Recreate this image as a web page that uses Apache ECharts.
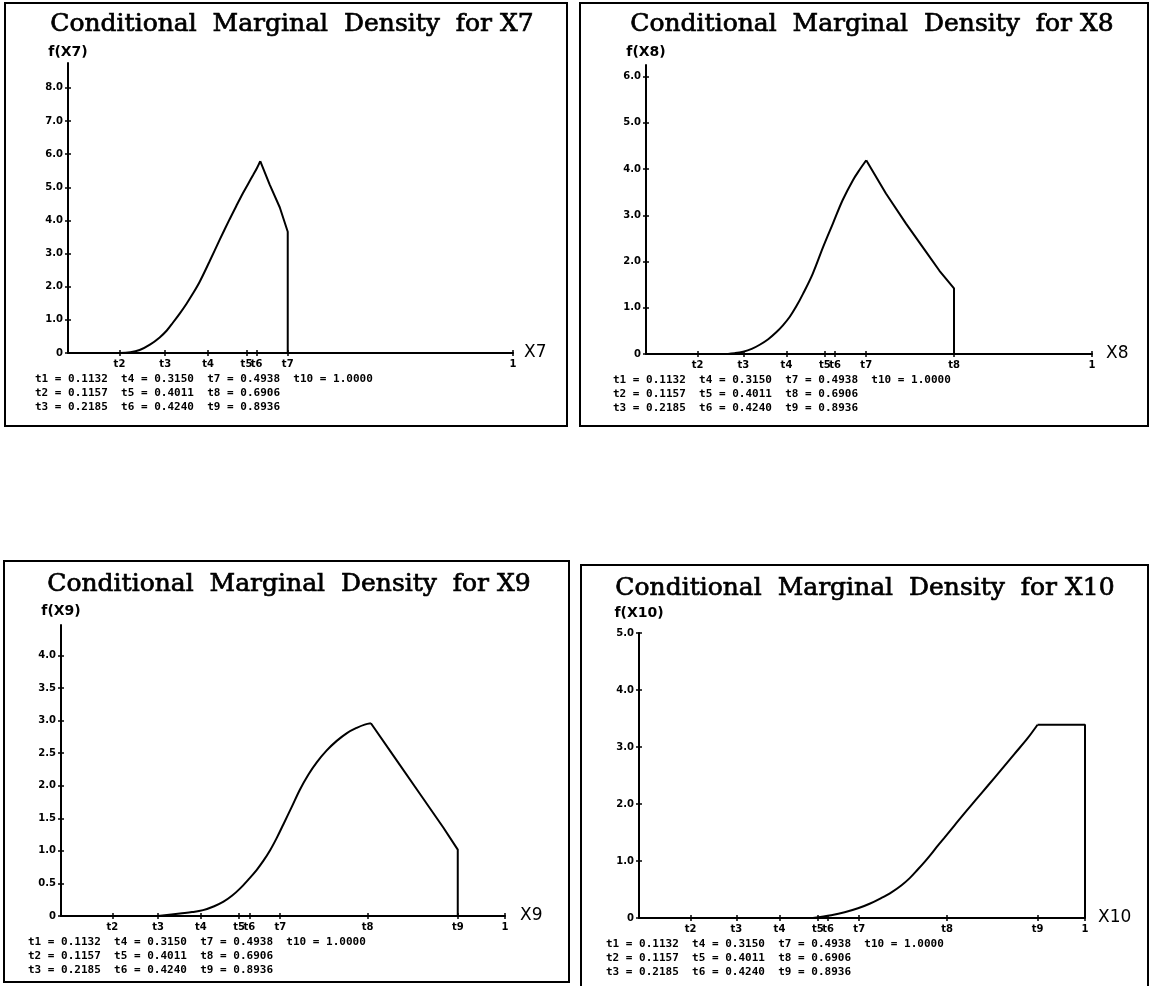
<!DOCTYPE html>
<html>
<head>
<meta charset="utf-8">
<script src="https://cdn.jsdelivr.net/npm/echarts@6/dist/echarts.min.js"></script>
<style>
  html, body { margin: 0; padding: 0; background: #fff; }
  #chart { width: 1151px; height: 986px; }
</style>
</head>
<body>
<div id="chart"></div>
<script>
// Spline knots shared by all four marginal densities
const knotNames  = ['t1', 't2', 't3', 't4', 't5', 't6', 't7', 't8', 't9', 't10'];
const knotValues = [0.1132, 0.1157, 0.2185, 0.3150, 0.4011, 0.4240, 0.4938, 0.6906, 0.8936, 1.0000];

// Conditional marginal density of X7
const x7Values  = [0.1157, 0.140, 0.161, 0.185, 0.206, 0.222, 0.236, 0.251, 0.266, 0.281, 0.296, 0.318, 0.341, 0.363, 0.378, 0.393, 0.405, 0.416, 0.425, 0.432, 0.453, 0.476, 0.4938, 0.4938];
const x7Density = [0, 0.02, 0.09, 0.26, 0.47, 0.68, 0.92, 1.19, 1.48, 1.80, 2.15, 2.76, 3.42, 4.03, 4.43, 4.82, 5.11, 5.37, 5.59, 5.79, 5.09, 4.39, 3.66, 0];

// Conditional marginal density of X8
const x8Values  = [0.1157, 0.173, 0.200, 0.218, 0.237, 0.255, 0.274, 0.292, 0.307, 0.322, 0.337, 0.352, 0.374, 0.397, 0.419, 0.441, 0.464, 0.480, 0.4938, 0.538, 0.583, 0.628, 0.658, 0.6906, 0.6906];
const x8Density = [0, 0, 0.02, 0.05, 0.11, 0.20, 0.32, 0.47, 0.62, 0.80, 1.03, 1.30, 1.74, 2.31, 2.82, 3.33, 3.76, 4.00, 4.19, 3.47, 2.82, 2.21, 1.80, 1.42, 0];

// Conditional marginal density of X9
const x9Values  = [0.2185, 0.268, 0.295, 0.320, 0.345, 0.366, 0.385, 0.403, 0.422, 0.441, 0.456, 0.471, 0.486, 0.501, 0.520, 0.538, 0.557, 0.576, 0.598, 0.621, 0.644, 0.666, 0.684, 0.698, 0.749, 0.809, 0.861, 0.8936, 0.8936];
const x9Density = [0, 0.04, 0.06, 0.09, 0.15, 0.22, 0.31, 0.42, 0.56, 0.71, 0.85, 1.01, 1.20, 1.41, 1.68, 1.94, 2.17, 2.36, 2.54, 2.69, 2.81, 2.89, 2.94, 2.96, 2.46, 1.87, 1.36, 1.02, 0];

// Conditional marginal density of X10
const x10Values  = [0.390, 0.431, 0.461, 0.491, 0.517, 0.543, 0.566, 0.588, 0.607, 0.625, 0.640, 0.655, 0.670, 0.685, 0.708, 0.730, 0.756, 0.782, 0.812, 0.842, 0.871, 0.8936, 1.0, 1.0];
const x10Density = [0, 0.05, 0.10, 0.17, 0.25, 0.35, 0.45, 0.57, 0.70, 0.85, 0.98, 1.12, 1.27, 1.41, 1.63, 1.84, 2.08, 2.32, 2.60, 2.88, 3.15, 3.39, 3.39, 0];

// Knot marks labelled under each x axis
const xTicksX7  = ['t2', 't3', 't4', 't5', 't6', 't7', '1'];
const xTicksX8  = ['t2', 't3', 't4', 't5', 't6', 't7', 't8', '1'];
const xTicksX9  = ['t2', 't3', 't4', 't5', 't6', 't7', 't8', 't9', '1'];
const xTicksX10 = ['t2', 't3', 't4', 't5', 't6', 't7', 't8', 't9', '1'];

// Density axis ticks
const yTicksX7  = [0, 1, 2, 3, 4, 5, 6, 7, 8];
const yTicksX8  = [0, 1, 2, 3, 4, 5, 6];
const yTicksX9  = [0, 0.5, 1, 1.5, 2, 2.5, 3, 3.5, 4];
const yTicksX10 = [0, 1, 2, 3, 4, 5];

const titles = [
  'Conditional  Marginal  Density  for X7',
  'Conditional  Marginal  Density  for X8',
  'Conditional  Marginal  Density  for X9',
  'Conditional  Marginal  Density  for X10'
];
const varNames = ['X7', 'X8', 'X9', 'X10'];

const knotPos = { '1': 1 };
knotNames.forEach((n, i) => { knotPos[n] = knotValues[i]; });

// Panel layout in pixels
const panels = [
  { xs: x7Values,  ys: x7Density,  xt: xTicksX7,  yt: yTicksX7,  yMax: 8.75,
    grid: { left: 68,  top: 63,  width: 445, height: 290 }, box: [5, 3, 562, 423],
    titleAt: [292, 24], yNameGap: 4,  xNameGap: 11 },
  { xs: x8Values,  ys: x8Density,  xt: xTicksX8,  yt: yTicksX8,  yMax: 6.25,
    grid: { left: 646, top: 65,  width: 446, height: 289 }, box: [580, 3, 568, 423],
    titleAt: [872, 24], yNameGap: 6,  xNameGap: 14 },
  { xs: x9Values,  ys: x9Density,  xt: xTicksX9,  yt: yTicksX9,  yMax: 4.47,
    grid: { left: 61,  top: 625, width: 444, height: 291 }, box: [4, 561, 565, 421],
    titleAt: [289, 584], yNameGap: 7,  xNameGap: 15 },
  { xs: x10Values, ys: x10Density, xt: xTicksX10, yt: yTicksX10, yMax: 5,
    grid: { left: 639, top: 633, width: 446, height: 285 }, box: [581, 565, 567, 430],
    titleAt: [865, 588], yNameGap: 13, xNameGap: 13 }
];

const tinyLabel = { color: '#000', fontFamily: 'DejaVu Sans', fontWeight: 'bold', fontSize: 10 };
const blackLine = { color: '#000', width: 2 };
const tickLine = { color: '#000', width: 1.5 };

const grids = [], xAxes = [], yAxes = [], series = [], graphics = [];

// Footnote rows listing the knot values, three knots per column
const footRows = [0, 1, 2].map(r => {
  const cells = [];
  for (let k = r; k < knotNames.length; k += 3) {
    cells.push(knotNames[k] + ' = ' + knotValues[k].toFixed(4));
  }
  return cells.join('  ');
});

panels.forEach((p, i) => {
  grids.push(Object.assign({ containLabel: false }, p.grid));

  const xVals = p.xt.map(n => knotPos[n]);
  const xLabelFor = v => {
    let best = p.xt[0], d = Infinity;
    p.xt.forEach(n => { const e = Math.abs(knotPos[n] - v); if (e < d) { d = e; best = n; } });
    return best;
  };

  const xBase = { type: 'value', gridIndex: i, min: 0, max: 1, position: 'bottom', splitLine: { show: false } };
  const yBase = { type: 'value', gridIndex: i, min: 0, max: p.yMax, position: 'left', splitLine: { show: false } };

  xAxes.push(Object.assign({}, xBase, {
    name: varNames[i], nameLocation: 'end', nameGap: p.xNameGap,
    nameTextStyle: { color: '#000', fontFamily: 'DejaVu Sans', fontSize: 17 },
    axisLine: { show: true, onZero: false, lineStyle: blackLine },
    axisTick: { show: true, length: 3, customValues: xVals, lineStyle: tickLine },
    axisLabel: Object.assign({ customValues: xVals, margin: 6, formatter: xLabelFor }, tinyLabel)
  }));
  xAxes.push(Object.assign({}, xBase, {
    axisLine: { show: false },
    axisTick: { show: true, inside: true, length: 3, customValues: xVals, lineStyle: tickLine },
    axisLabel: { show: false }
  }));

  yAxes.push(Object.assign({}, yBase, {
    name: 'f(' + varNames[i] + ')', nameLocation: 'end', nameGap: p.yNameGap,
    nameTextStyle: { color: '#000', fontFamily: 'DejaVu Sans', fontWeight: 'bold', fontSize: 14 },
    axisLine: { show: true, onZero: false, lineStyle: blackLine },
    axisTick: { show: true, length: 3, customValues: p.yt, lineStyle: tickLine },
    axisLabel: Object.assign({ customValues: p.yt, margin: 5,
      formatter: v => (v === 0 ? '0' : v.toFixed(1)) }, tinyLabel)
  }));
  yAxes.push(Object.assign({}, yBase, {
    axisLine: { show: false },
    axisTick: { show: true, inside: true, length: 3, customValues: p.yt, lineStyle: tickLine },
    axisLabel: { show: false }
  }));

  // Rising spline part is drawn smoothed; the straight piece after the peak
  // and the closing drop at the support end stay as straight segments.
  const pts = p.xs.map((x, k) => [x, p.ys[k]]);
  let peak = 0;
  p.ys.forEach((y, k) => { if (y > p.ys[peak]) peak = k; });
  const lineBase = {
    type: 'line', xAxisIndex: 2 * i, yAxisIndex: 2 * i,
    showSymbol: false, symbol: 'none',
    lineStyle: { color: '#000', width: 2 }, silent: true
  };
  series.push(Object.assign({}, lineBase, {
    data: pts.slice(0, peak + 1), smooth: 0.35
  }));
  series.push(Object.assign({}, lineBase, {
    data: pts.slice(peak), smooth: false
  }));

  graphics.push({
    type: 'rect', silent: true,
    shape: { x: p.box[0], y: p.box[1], width: p.box[2], height: p.box[3] },
    style: { fill: 'none', stroke: '#000', lineWidth: 2 }
  });
  graphics.push({
    type: 'text', silent: true, x: p.titleAt[0], y: p.titleAt[1],
    style: { text: titles[i], fill: '#000', stroke: '#000', lineWidth: 0.7,
             font: '25px "DejaVu Serif"',
             align: 'center', verticalAlign: 'middle', textAlign: 'center', textVerticalAlign: 'middle' }
  });
  const axisY = p.grid.top + p.grid.height;
  footRows.forEach((line, r) => {
    graphics.push({
      type: 'text', silent: true, x: p.grid.left - 33, y: axisY + 26 + 14 * r,
      style: { text: line, fill: '#000', font: 'bold 11px "DejaVu Sans Mono"',
               align: 'left', verticalAlign: 'middle', textAlign: 'left', textVerticalAlign: 'middle' }
    });
  });
});

const chart = echarts.init(document.getElementById('chart'), null, { renderer: 'canvas', width: 1151, height: 986 });
chart.setOption({
  animation: false,
  backgroundColor: '#fff',
  grid: grids,
  xAxis: xAxes,
  yAxis: yAxes,
  series: series,
  graphic: { elements: graphics }
});
</script>
</body>
</html>
